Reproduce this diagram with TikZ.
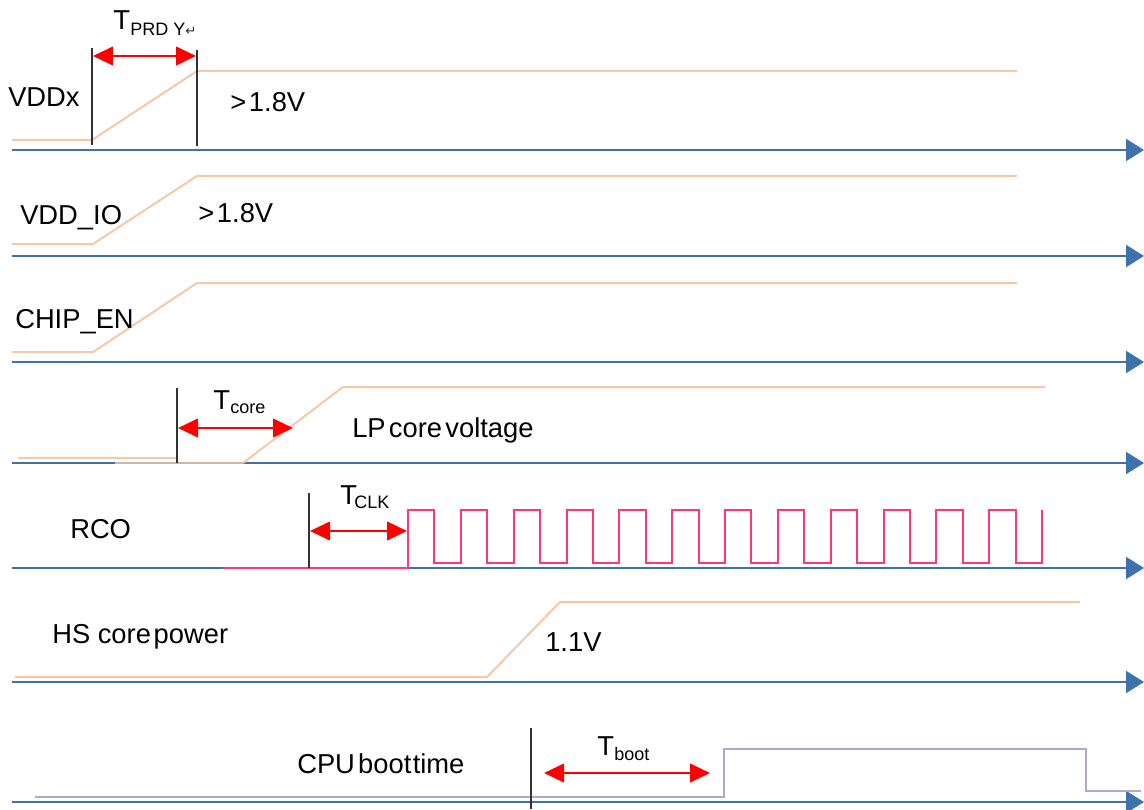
\documentclass[tikz,border=0pt]{standalone}
\usepackage{fontspec}
\setmainfont{Liberation Sans}
\newfontfamily\symfont{DejaVu Sans}
\usetikzlibrary{arrows.meta}
\definecolor{axisblue}{RGB}{62,114,170}
\definecolor{peach}{RGB}{246,200,168}
\definecolor{pinkc}{RGB}{255,55,120}
\definecolor{purplec}{RGB}{180,166,206}
\definecolor{markgray}{RGB}{50,50,50}
\tikzset{
  axis/.style={draw=axisblue, line width=1.5pt, -{Triangle[length=13.5pt,width=16.5pt]}},
  sig/.style={draw=peach, line width=1.5pt},
  clk/.style={draw=pinkc, line width=1.5pt},
  cpu/.style={draw=purplec, line width=2.2pt},
  marker/.style={draw=markgray, line width=0.9pt},
  span/.style={draw=red, line width=1.5pt, {Triangle[length=15pt,width=14pt]}-{Triangle[length=15pt,width=14pt]}},
  lbl/.style={anchor=base west, inner sep=0pt, font=\fontsize{20.5}{24}\selectfont},
  sub/.style={anchor=base west, inner sep=0pt, font=\fontsize{13.5}{16}\selectfont},
}
\begin{document}
\begin{tikzpicture}[x=0.75pt, y=-0.75pt]
\useasboundingbox (0,0) rectangle (1144,809);
% axes
\foreach \yy/\nm in {150/a1, 256/a2, 362/a3, 463/a4, 568/a5, 682/a6, 802/a7} {
  \coordinate (\nm s) at (12,\yy);
  \coordinate (\nm e) at (1144,\yy);
  \draw[axis] (\nm s) -- (\nm e);
}
% VDDx
\draw[sig] (12,140) -- (92,140) -- (197,71) -- (1017,71);
% VDD_IO
\draw[sig] (12,244) -- (93,244) -- (197,176) -- (1017,176);
% CHIP_EN
\draw[sig] (12,352) -- (93,352) -- (197,283) -- (1017,283);
% LP core
\draw[sig] (18,458) -- (177,458);
\draw[sig, opacity=0.8] (115,463) -- (243,463);
\draw[sig] (243,463) -- (343,387) -- (1045,387);
% RCO clock
\draw[clk] (223,568) -- (408,568) -- (408,510)
  \foreach \i in {0,...,11} { -- ++(26.42,0) -- ++(0,53) -- ++(26.42,0) -- ++(0,-53) };
% HS core power
\draw[sig] (15,677) -- (487,677) -- (560,602) -- (1080,602);
% CPU boot
\draw[cpu] (35,797) -- (724,797) -- (724,749) -- (1086,749) -- (1086,791) -- (1141,791);

% markers
\coordinate (m1t) at (92,48);   \coordinate (m1b) at (92,145);
\coordinate (m2t) at (197,50);  \coordinate (m2b) at (197,146);
\coordinate (m3t) at (177,388); \coordinate (m3b) at (177,463);
\coordinate (m4t) at (309,493); \coordinate (m4b) at (309,568);
\coordinate (m5t) at (531,728); \coordinate (m5b) at (531,809);
\foreach \m in {m1,m2,m3,m4,m5} { \draw[marker] (\m t) -- (\m b); }

% spans
\coordinate (s1a) at (93,56);   \coordinate (s1b) at (196,56);
\coordinate (s2a) at (178,428); \coordinate (s2b) at (293,428);
\coordinate (s3a) at (310,531); \coordinate (s3b) at (407,531);
\coordinate (s4a) at (544,773); \coordinate (s4b) at (710,773);
\foreach \s in {s1,s2,s3,s4} { \draw[span] (\s a) -- (\s b); }

% labels
\node[lbl] (tprdy) at (113,30) {T};
\node[sub] (tprdys) at (130,36) {PRD Y{\symfont\fontsize{10}{12}\selectfont\color{markgray}↵}};
\node[lbl] (vddx) at (8,107) {VDDx};
\node[lbl] (v18a) at (230,112) {>\hspace{0.1em}1.8V};
\node[lbl] (vddio) at (20,224) {VDD\_IO};
\node[lbl] (v18b) at (198,223) {>\hspace{0.1em}1.8V};
\node[lbl] (chipen) at (15,328) {CHIP\_EN};
\node[lbl] (tcore) at (213,409) {T};
\node[sub] (tcores) at (230,413) {core};
\node[lbl] (lp) at (352,437) {LP\hspace{0.12em}core\hspace{0.12em}voltage};
\node[lbl] (tclk) at (340,504) {T};
\node[sub] (tclks) at (354,508) {CLK};
\node[lbl] (rco) at (70,538) {RCO};
\node[lbl] (hs) at (52,643) {HS core\hspace{0.1em}power};
\node[lbl] (v11) at (545,651) {1.1V};
\node[lbl] (cpul) at (297,773) {CPU\hspace{0.12em}boot\hspace{0.05em}time};
\node[lbl] (tboot) at (597,755) {T};
\node[sub] (tboots) at (614,760) {boot};
\end{tikzpicture}
\end{document}
